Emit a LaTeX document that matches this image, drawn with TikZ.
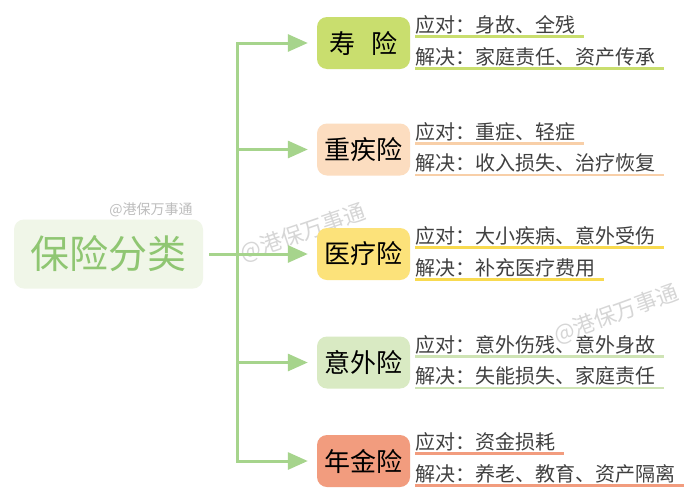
\documentclass[tikz,border=0pt]{standalone}
\usepackage{fontspec}
\setmainfont{Noto Sans CJK SC}
\usetikzlibrary{arrows.meta}
\definecolor{linegreen}{HTML}{A6D48C}
\definecolor{rootfill}{HTML}{F0F6E8}
\definecolor{roottext}{HTML}{8FC672}
\definecolor{txtgray}{HTML}{404040}
\definecolor{wmdark}{HTML}{BDBDBD}
\definecolor{wmlight}{HTML}{D6D6D6}
\definecolor{cA}{HTML}{C9DE6E}
\definecolor{cB}{HTML}{FCDDC0}
\definecolor{cC}{HTML}{FCE27A}
\definecolor{cD}{HTML}{D9EAC3}
\definecolor{cE}{HTML}{F29C7E}
\definecolor{uA}{HTML}{C9DE6E}
\definecolor{uB}{HTML}{F8CFA8}
\definecolor{uC}{HTML}{F8DA50}
\definecolor{uD}{HTML}{CFE4B5}
\definecolor{uE}{HTML}{F29C7E}
\newcommand\ulline[2]{\draw[line width=2.5pt, draw=#2] ([yshift=-4.5pt]#1.base west) -- ([xshift=9pt,yshift=-4.5pt]#1.base east);}
\begin{document}
\begin{tikzpicture}[x=1pt,y=-1pt,
  rootbox/.style={fill=rootfill, rounded corners=10pt, minimum width=189pt, minimum height=69pt, inner sep=0pt, font=\fontsize{39}{39}\selectfont, text=roottext},
  catbox/.style={rounded corners=10pt, minimum width=93pt, minimum height=52pt, inner sep=0pt, font=\fontsize{26}{26}\selectfont, text=black},
  lbl/.style={anchor=base west, inner sep=0pt, outer sep=0pt, font=\fontsize{20}{20}\selectfont, text=txtgray},
  conn/.style={line width=3pt, draw=linegreen, line join=miter},
  arr/.style={conn, -{Triangle[length=20pt,width=17pt]}, shorten >=9pt},
  wm/.style={inner sep=0pt}
]
\useasboundingbox (0,0) rectangle (700,501);
\fill[white] (0,0) rectangle (700,501);

% watermarks
\node[wm, text=wmdark, font=\fontsize{14}{14}\selectfont] (wm0) at (151,210) {@港保万事通};
\node[wm, text=wmlight, font=\fontsize{22}{22}\selectfont, rotate=19] (wm1) at (303,233) {@港保万事通};
\node[wm, text=wmlight, font=\fontsize{22}{22}\selectfont, rotate=20] (wm2) at (616,314) {@港保万事通};

% root
\node[rootbox] (root) at (108.5,254) {保险分类};

% category boxes
\node[catbox, fill=cA] (c1) at (363.5,43) {寿\hspace{0.6em}险};
\node[catbox, fill=cB] (c2) at (363.5,149.5) {重疾险};
\node[catbox, fill=cC] (c3) at (363.5,254) {医疗险};
\node[catbox, fill=cD] (c4) at (363.5,362.5) {意外险};
\node[catbox, fill=cE] (c5) at (363.5,461) {年金险};

% connectors
\coordinate (hub) at (237,254);
\draw[conn] ([xshift=6pt]root.east) -- (hub);
\draw[arr] (hub) -- (c1 -| hub) -- (c1.west);
\draw[arr] (hub) -- (c5 -| hub) -- (c5.west);
\draw[arr] (c2 -| hub) -- (c2.west);
\draw[arr] (hub) -- (c3.west);
\draw[arr] (c4 -| hub) -- (c4.west);

% labels
\node[lbl] (a1) at (415,32) {应对：身故、全残};
\node[lbl] (a2) at (415,64) {解决：家庭责任、资产传承};
\ulline{a1}{uA}\ulline{a2}{uA}

\node[lbl] (b1) at (415,139) {应对：重症、轻症};
\node[lbl] (b2) at (415,170.5) {解决：收入损失、治疗恢复};
\ulline{b1}{uB}\ulline{b2}{uB}

\node[lbl] (d1) at (415,243) {应对：大小疾病、意外受伤};
\node[lbl] (d2) at (415,275) {解决：补充医疗费用};
\ulline{d1}{uC}\ulline{d2}{uC}

\node[lbl] (e1) at (415,352) {应对：意外伤残、意外身故};
\node[lbl] (e2) at (415,383.5) {解决：失能损失、家庭责任};
\ulline{e1}{uD}\ulline{e2}{uD}

\node[lbl] (f1) at (415,449) {应对：资金损耗};
\node[lbl] (f2) at (415,481) {解决：养老、教育、资产隔离};
\ulline{f1}{uE}\ulline{f2}{uE}
\end{tikzpicture}
\end{document}
